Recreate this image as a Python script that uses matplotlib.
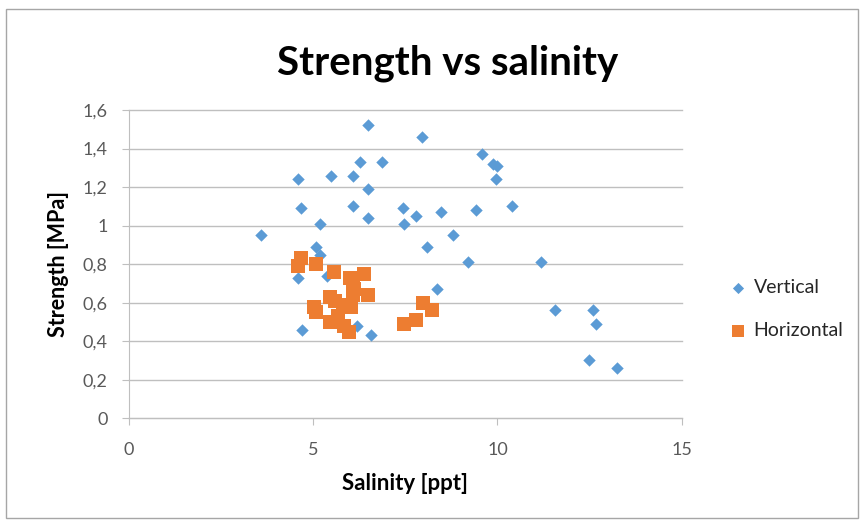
import matplotlib.pyplot as plt
from matplotlib.patches import Rectangle
from matplotlib.ticker import FuncFormatter, MultipleLocator

# salinity [ppt] and strength [MPa]
vertical_x = [3.58, 4.59, 4.68, 4.59, 4.69, 5.09, 5.18, 5.18, 5.37, 5.50,
              6.09, 6.09, 6.28, 6.50, 6.50, 6.50, 6.20, 6.58, 6.87, 7.43,
              7.46, 7.79, 7.96, 8.10, 8.37, 8.46, 8.80, 9.21, 9.43, 9.57,
              9.89, 10.00, 9.97, 10.38, 11.18, 11.57, 12.58, 12.67, 12.49, 13.24]
vertical_y = [0.95, 1.24, 1.09, 0.73, 0.46, 0.89, 0.85, 1.01, 0.74, 1.26,
              1.26, 1.10, 1.33, 1.52, 1.19, 1.04, 0.48, 0.43, 1.33, 1.09,
              1.01, 1.05, 1.46, 0.89, 0.67, 1.07, 0.95, 0.81, 1.08, 1.37,
              1.32, 1.31, 1.24, 1.10, 0.81, 0.56, 0.56, 0.49, 0.30, 0.26]

horizontal_x = [4.67, 4.59, 5.09, 5.58, 5.99, 6.39, 6.08, 6.10, 6.08, 6.48,
                5.45, 5.60, 5.04, 5.09, 5.81, 6.03, 5.67, 5.45, 5.85, 5.97,
                7.97, 8.22, 7.79, 7.47]
horizontal_y = [0.83, 0.79, 0.80, 0.76, 0.73, 0.75, 0.70, 0.67, 0.64, 0.64,
                0.63, 0.61, 0.58, 0.55, 0.59, 0.58, 0.53, 0.50, 0.48, 0.45,
                0.60, 0.56, 0.51, 0.49]

BLUE = "#5B9BD5"
ORANGE = "#ED7D31"
GRID = "#BFBFBF"
TEXT = "#595959"

plt.rcParams["font.family"] = ["Lato", "DejaVu Sans"]

fig = plt.figure(figsize=(8.65, 5.24), dpi=100)
fig.patches.append(Rectangle((0.007, 0.012), 0.985, 0.97, transform=fig.transFigure,
                             fill=False, edgecolor="#A6A6A6", linewidth=1.0))

ax = fig.add_axes([0.1486, 0.2017, 0.6398, 0.5884])
ax.scatter(vertical_x, vertical_y, marker="D", s=40, color=BLUE, linewidths=0,
           label="Vertical", zorder=3)
ax.scatter(horizontal_x, horizontal_y, marker="s", s=95, color=ORANGE, linewidths=0,
           label="Horizontal", zorder=4)

ax.set_xlim(0, 15)
ax.set_ylim(0, 1.6)
ax.xaxis.set_major_locator(MultipleLocator(5))
ax.yaxis.set_major_locator(MultipleLocator(0.2))
ax.yaxis.set_major_formatter(FuncFormatter(lambda v, _: f"{v:g}".replace(".", ",")))
ax.grid(axis="y", color=GRID, linewidth=1.0, clip_on=False)
ax.set_axisbelow(True)

for side in ("top", "right"):
    ax.spines[side].set_visible(False)
for side in ("left", "bottom"):
    ax.spines[side].set_color(GRID)
ax.tick_params(colors=GRID, labelcolor=TEXT, labelsize=13, length=5, direction="out")
ax.tick_params(axis="x", pad=12)
ax.tick_params(axis="y", pad=10)

ax.set_xlabel("Salinity [ppt]", fontsize=16, fontweight="bold", labelpad=11)
ax.set_ylabel("Strength [MPa]", fontsize=15.5, fontweight="bold", labelpad=10)

fig.text(0.518, 0.857, "Strength vs salinity", ha="center", va="baseline",
         fontsize=29, fontweight="bold")

fig.legend(loc="upper left", bbox_to_anchor=(0.842, 0.468), frameon=False,
           fontsize=14, handlelength=1.0, handletextpad=0.3, labelspacing=1.35,
           markerscale=0.9, labelcolor="#262626", borderaxespad=0, borderpad=0)

fig.savefig("out.png", dpi=100)
